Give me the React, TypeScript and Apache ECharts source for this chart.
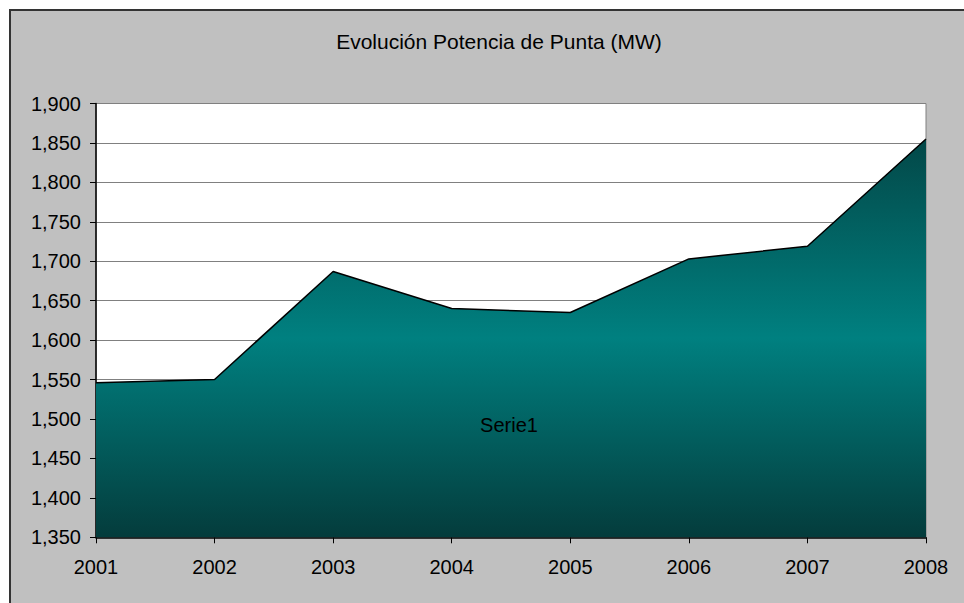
import React, { useEffect, useRef } from "react";
import * as echarts from "echarts";

const years = ["2001", "2002", "2003", "2004", "2005", "2006", "2007", "2008"];
const peakMW = [1546, 1550, 1687, 1640, 1635, 1703, 1719, 1855];
const seriesName = "Serie1";
const titleText = "Evolución Potencia de Punta (MW)";

const FONT = "'Liberation Sans', Arial, sans-serif";

export default function App() {
  const ref = useRef<HTMLDivElement>(null);
  useEffect(() => {
    if (!ref.current) return;
    const chart = echarts.init(ref.current, null, { renderer: "svg" });
    chart.setOption({
      animation: false,
      backgroundColor: "#ffffff",
      textStyle: { fontFamily: FONT },
      graphic: [
        {
          type: "rect",
          z: -10,
          silent: true,
          shape: { x: 10, y: 10, width: 1000, height: 1000 },
          style: { fill: "#c0c0c0", stroke: "#333333", lineWidth: 2 },
        },
        {
          type: "text",
          x: 499,
          y: 41,
          z: 10,
          style: {
            text: titleText,
            fontFamily: FONT,
            fontSize: 21,
            fill: "#000",
            align: "center",
            verticalAlign: "middle",
          },
        },
        {
          type: "text",
          x: 509,
          y: 425,
          z: 10,
          style: {
            text: seriesName,
            fontFamily: FONT,
            fontSize: 20,
            fill: "#000",
            align: "center",
            verticalAlign: "middle",
          },
        },
      ],
      grid: {
        left: 96,
        right: 38,
        top: 103.5,
        bottom: 65.7,
        show: true,
        backgroundColor: "#ffffff",
        borderColor: "#808080",
        borderWidth: 1,
      },
      xAxis: {
        type: "category",
        data: years,
        boundaryGap: false,
        axisLine: { lineStyle: { color: "#000", width: 1.5 } },
        axisTick: { show: true, length: 6, lineStyle: { color: "#000" } },
        axisLabel: { color: "#000", fontSize: 20, fontFamily: FONT, margin: 20 },
        splitLine: { show: false },
      },
      yAxis: {
        type: "value",
        min: 1350,
        max: 1900,
        interval: 50,
        axisLine: { show: true, lineStyle: { color: "#000", width: 1.5 } },
        axisTick: { show: true, length: 6, lineStyle: { color: "#000" } },
        axisLabel: {
          color: "#000",
          fontSize: 20,
          fontFamily: FONT,
          margin: 15,
          formatter: (v: number) => v.toLocaleString("en-US"),
        },
        splitLine: { show: true, lineStyle: { color: "#808080", width: 1.2 } },
      },
      series: [
        {
          name: seriesName,
          type: "line",
          data: peakMW,
          symbol: "none",
          lineStyle: { color: "#000", width: 1.5 },
          areaStyle: {
            origin: "start",
            opacity: 1,
            color: new echarts.graphic.LinearGradient(0, 0, 0, 1, [
              { offset: 0, color: "#034848" },
              { offset: 0.5, color: "#008080" },
              { offset: 1, color: "#043c3c" },
            ]),
          },
        },
      ],
    });
    return () => chart.dispose();
  }, []);
  return (
    <div
      ref={ref}
      style={{ position: "fixed", left: 0, top: 0, width: 964, height: 603 }}
    />
  );
}
